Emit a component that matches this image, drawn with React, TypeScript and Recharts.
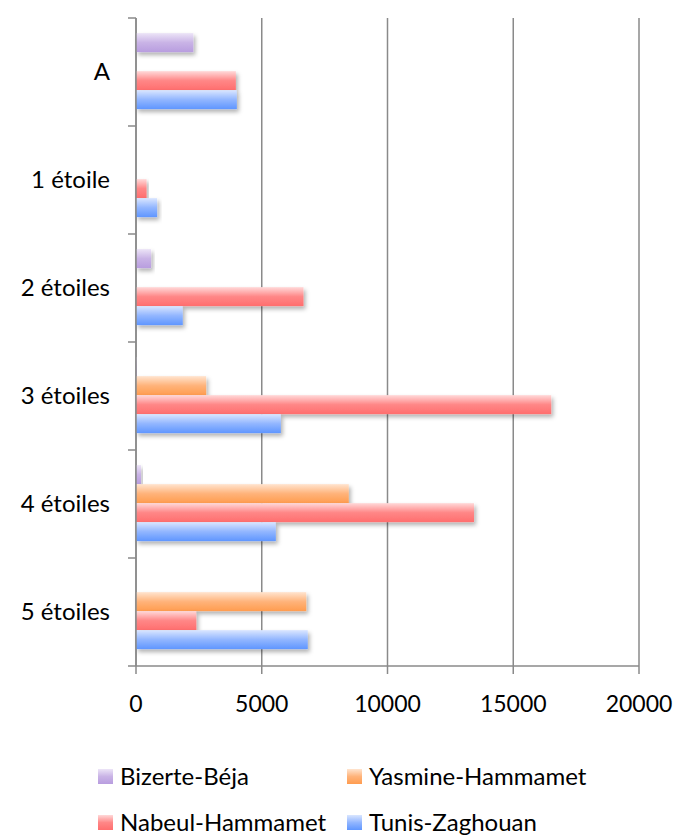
import React from 'react';
import { BarChart, Bar, XAxis, YAxis, CartesianGrid } from 'recharts';

const categories = ['A', '1 étoile', '2 étoiles', '3 étoiles', '4 étoiles', '5 étoiles'];
const bizerteBeja = [2280, 0, 600, 30, 200, 0];
const yasmineHammamet = [0, 0, 0, 2790, 8460, 6770];
const nabeulHammamet = [3970, 420, 6660, 16510, 13440, 2400];
const tunisZaghouan = [4010, 840, 1860, 5760, 5560, 6830];
const xTicks = [0, 5000, 10000, 15000, 20000];

const seriesInfo = [
  { key: 'bizerte', name: 'Bizerte-Béja', grad: 'gPurple' },
  { key: 'yasmine', name: 'Yasmine-Hammamet', grad: 'gOrange' },
  { key: 'nabeul', name: 'Nabeul-Hammamet', grad: 'gRed' },
  { key: 'tunis', name: 'Tunis-Zaghouan', grad: 'gBlue' },
];

const data = categories.map((c, i) => ({
  cat: c,
  bizerte: bizerteBeja[i],
  yasmine: yasmineHammamet[i],
  nabeul: nabeulHammamet[i],
  tunis: tunisZaghouan[i],
}));

const FONT = 'Lato, "Open Sans", sans-serif';
const AXIS = '#8a8a8a';
const TICK_SIZE = 8;
const Y_TICK_MARGIN = 18;

const YTick = (props: any) => {
  const { x, y, payload, index, visibleTicksCount } = props;
  const off = payload && payload.offset != null ? payload.offset : 0;
  const lx2 = x + Y_TICK_MARGIN + TICK_SIZE;
  const lx1 = x + Y_TICK_MARGIN;
  const last = index === visibleTicksCount - 1;
  return (
    <g>
      <line x1={lx1} x2={lx2} y1={y - off} y2={y - off} stroke={AXIS} strokeWidth={1.5} />
      {last && <line x1={lx1} x2={lx2} y1={y + off} y2={y + off} stroke={AXIS} strokeWidth={1.5} />}
      <text x={x} y={y} dy="0.35em" textAnchor="end" fontFamily={FONT} fontSize={24} fill="#000">
        {payload.value}
      </text>
    </g>
  );
};

const BarShape = (props: any) => {
  const { x, y, width, height, fill } = props;
  if (!width || width <= 0) return null;
  return <rect x={x} y={y} width={width} height={height} fill={fill} filter="url(#barShadow)" />;
};

const Defs = () => (
  <svg width={0} height={0} style={{ position: 'absolute' }}>
    <defs>
      <linearGradient id="gPurple" x1="0" y1="0" x2="0" y2="1">
        <stop offset="0%" stopColor="#ece4f7" />
        <stop offset="50%" stopColor="#c9b3e6" />
        <stop offset="100%" stopColor="#b89ddf" />
      </linearGradient>
      <linearGradient id="gOrange" x1="0" y1="0" x2="0" y2="1">
        <stop offset="0%" stopColor="#ffe4cf" />
        <stop offset="50%" stopColor="#ffb37a" />
        <stop offset="100%" stopColor="#ff9c4f" />
      </linearGradient>
      <linearGradient id="gRed" x1="0" y1="0" x2="0" y2="1">
        <stop offset="0%" stopColor="#ffd9d9" />
        <stop offset="50%" stopColor="#ff8787" />
        <stop offset="100%" stopColor="#ff6e6e" />
      </linearGradient>
      <linearGradient id="gBlue" x1="0" y1="0" x2="0" y2="1">
        <stop offset="0%" stopColor="#dae6ff" />
        <stop offset="50%" stopColor="#92b6ff" />
        <stop offset="100%" stopColor="#5f96ff" />
      </linearGradient>
      <filter id="barShadow" x="-10%" y="-30%" width="130%" height="180%">
        <feDropShadow dx="2" dy="3" stdDeviation="2" floodColor="#000" floodOpacity="0.3" />
      </filter>
    </defs>
  </svg>
);

const LegendItem = ({ s, left, top }: any) => (
  <div style={{ position: 'absolute', left, top, height: 24, lineHeight: '24px', display: 'flex', alignItems: 'center', fontFamily: FONT, fontSize: 24, color: '#000', whiteSpace: 'nowrap' }}>
    <svg width={15} height={15} style={{ marginRight: 7 }}>
      <rect x={0} y={0} width={15} height={15} fill={`url(#${s.grad})`} />
    </svg>
    <span>{s.name}</span>
  </div>
);

export default function App() {
  return (
    <div style={{ position: 'absolute', left: 0, top: 0, width: 675, height: 836, background: '#fff', overflow: 'hidden' }}>
      <Defs />
      <BarChart
        width={675}
        height={836}
        data={data}
        layout="vertical"
        margin={{ top: 18, right: 36, bottom: 130, left: 0 }}
        barCategoryGap="14%"
        barGap={0}
      >
        <CartesianGrid horizontal={false} vertical={true} stroke={AXIS} strokeWidth={1.5} />
        <XAxis
          type="number"
          domain={[0, 20000]}
          ticks={xTicks}
          interval={0}
          tickSize={TICK_SIZE}
          tickMargin={22}
          axisLine={{ stroke: AXIS, strokeWidth: 1.5 }}
          tickLine={{ stroke: AXIS, strokeWidth: 1.5 }}
          tick={{ fontFamily: FONT, fontSize: 23, fill: '#000' }}
          height={40}
        />
        <YAxis
          type="category"
          dataKey="cat"
          width={136}
          interval={0}
          tickSize={TICK_SIZE}
          tickMargin={Y_TICK_MARGIN}
          axisLine={{ stroke: AXIS, strokeWidth: 1.5 }}
          tickLine={false}
          tick={<YTick />}
        />
        {seriesInfo.map((s) => (
          <Bar
            key={s.key}
            dataKey={s.key}
            name={s.name}
            fill={`url(#${s.grad})`}
            isAnimationActive={false}
            shape={<BarShape />}
          />
        ))}
      </BarChart>
      <LegendItem s={seriesInfo[0]} left={98} top={764} />
      <LegendItem s={seriesInfo[1]} left={347} top={764} />
      <LegendItem s={seriesInfo[2]} left={98} top={810} />
      <LegendItem s={seriesInfo[3]} left={347} top={810} />
    </div>
  );
}
